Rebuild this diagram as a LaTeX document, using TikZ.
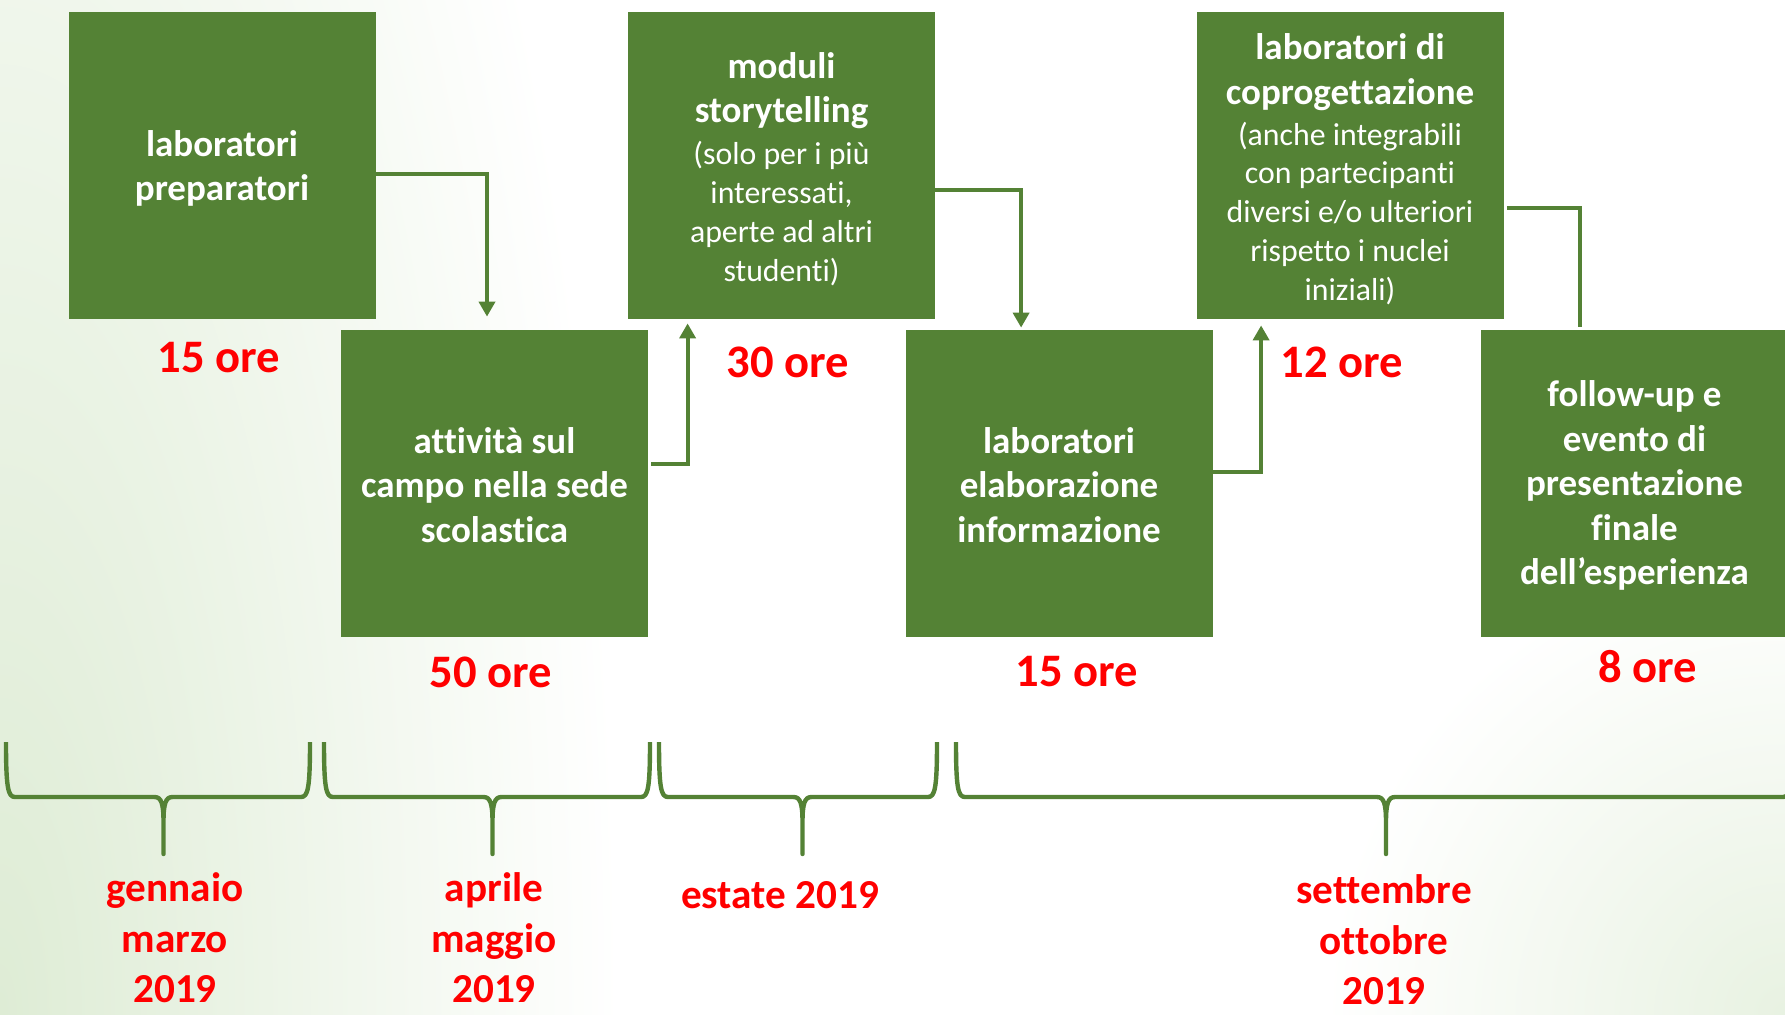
\documentclass[tikz,border=0pt]{standalone}
\usepackage{fontspec}
\setmainfont{Carlito}[Ligatures={NoCommon}]
\usetikzlibrary{arrows.meta}

\definecolor{phasegreen}{RGB}{84,130,53}
\definecolor{hourred}{RGB}{255,0,0}
\definecolor{bgtint}{RGB}{222,236,213}

\newcommand{\notetxt}{\mdseries\fontsize{15.9}{19.4}\selectfont}
\newcommand{\timebrace}[3]{%
  \draw[braceline] (#1,742) .. controls (#1,788) and (#1+2,797) .. (#1+9,797)
    -- (#2-9,797) .. controls (#2-2,797) and (#2,804) .. (#2,822) -- (#2,854)
    -- (#2,822) .. controls (#2,804) and (#2+2,797) .. (#2+9,797)
    -- (#3-9,797) .. controls (#3-2,797) and (#3,788) .. (#3,742);}

\tikzset{
  phasebox/.style={
    fill=phasegreen,
    text=white,
    minimum width=153.5pt,
    minimum height=153.5pt,
    inner sep=0pt,
    text width=150pt,
    align=flush center,
    font=\bfseries\fontsize{18.5}{22.2}\selectfont,
    execute at begin node={\rule{0pt}{#1}}
  },
  phasebox/.default=14.6pt,
  hours/.style={text=hourred, font=\bfseries\fontsize{23.3}{28}\selectfont},
  period/.style={text=hourred, align=flush center, font=\bfseries\fontsize{20.6}{25.3}\selectfont},
  flow/.style={draw=phasegreen, line width=2pt, -{Triangle[width=8pt,length=7.5pt]}},
  plainlink/.style={draw=phasegreen, line width=2pt},
  braceline/.style={draw=phasegreen, line width=2.2pt, line join=round}
}

\begin{document}
\begin{tikzpicture}[x=0.5pt, y=-0.5pt]
    \useasboundingbox (0,0) rectangle (1785,1014);
    \clip (0,0) rectangle (1785,1014);
    \fill[white] (0,0) rectangle (1785,1014);
    \shade[inner color=bgtint, outer color=white] (0,1014) ellipse (620 and 1900);
    \shade[inner color=bgtint!70!white, outer color=white] (1785,1014) circle (460);

    \node[phasebox=16pt] (prep) at (222,165.5) {laboratori\\preparatori};
    \node[phasebox] (campo) at (494.5,483.5) {attività sul\\campo nella sede\\scolastica};
    \node[phasebox=16.6pt] (story) at (781.5,165.5) {moduli\\storytelling\\[1.6pt]\notetxt(solo per i più\\interessati,\\aperte ad altri\\studenti)\par};
    \node[phasebox] (elab) at (1059,483.5) {laboratori\\elaborazione\\informazione};
    \node[phasebox=16.6pt] (copro) at (1350,165.5) {laboratori di\\coprogettazione\\[1.1pt]\notetxt(anche integrabili\\con partecipanti\\diversi e/o ulteriori\\rispetto i nuclei\\iniziali)\par};
    \node[phasebox=15pt] (follow) at (1634.5,483.5) {follow-up e\\evento di\\presentazione\\finale\\dell’esperienza};

    \node[hours] (h1) at (219,358) {15 ore};
    \node[hours] (h2) at (491,672) {50 ore};
    \node[hours] (h3) at (788,362) {30 ore};
    \node[hours] (h4) at (1077,672) {15 ore};
    \node[hours] (h5) at (1342,362) {12 ore};
    \node[hours] (h6) at (1648,667) {8 ore};

    \draw[flow] ([yshift=-4.25pt]prep.east) -| ([xshift=-3.75pt,yshift=6.5pt]campo.north);
    \draw[flow] ([xshift=1.5pt,yshift=9.75pt]campo.east) -| ([xshift=30pt,yshift=-2pt]story.south west);
    \draw[flow] ([yshift=-12.25pt]story.east) -| ([xshift=58pt,yshift=1pt]elab.north west);
    \draw[flow] ([yshift=6pt]elab.east) -| ([xshift=32.5pt,yshift=-3pt]copro.south west);
    \draw[plainlink] ([xshift=1.5pt,yshift=-21.25pt]copro.east) -| ([xshift=49.5pt,yshift=1.5pt]follow.north west);

    \timebrace{6}{163.5}{310}
    \timebrace{324}{492.5}{650}
    \timebrace{659}{802.5}{937}
    \timebrace{956}{1386}{1792}

    \node[period] (p1) at (175,938) {gennaio\\marzo\\2019};
    \node[period] (p2) at (494,938) {aprile\\maggio\\2019};
    \node[period] (p3) at (780,895) {estate 2019};
    \node[period] (p4) at (1384,940) {settembre\\ottobre\\2019};
\end{tikzpicture}
\end{document}
